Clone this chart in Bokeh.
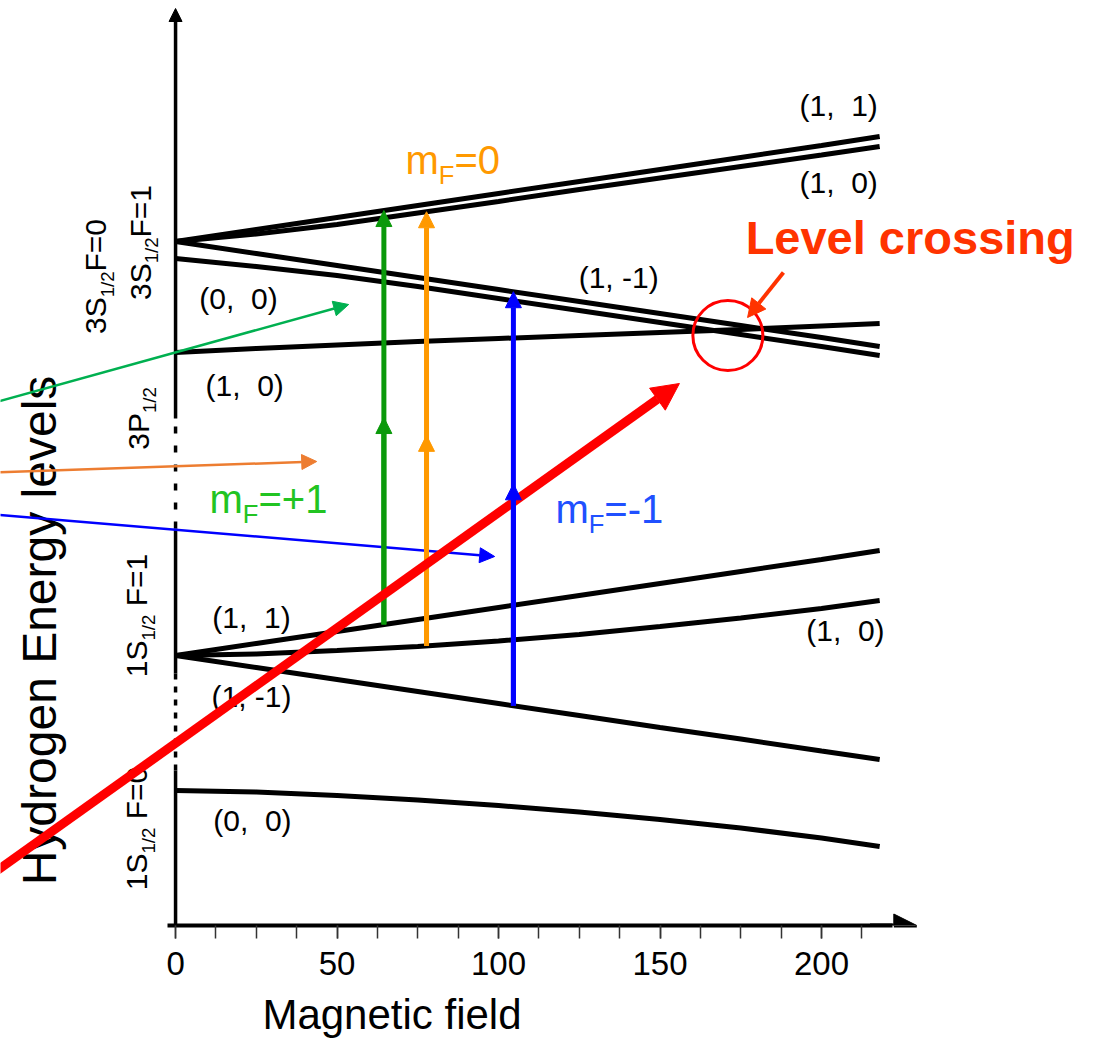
import math
import numpy as np
from bokeh.plotting import figure
from bokeh.models import Range1d, LinearAxis, FixedTicker, Arrow, NormalHead
from bokeh.core.properties import value
from bokeh.embed import file_html
from bokeh.resources import INLINE

# ---------------- data ----------------
B_GRID = [0, 25, 50, 75, 100, 125, 150, 175, 200, 218]          # magnetic field
# n = 3 levels (arbitrary energy units)
E_3S_F1_P1 = [68.4, 69.6, 70.8, 72.0, 73.2, 74.4, 75.6, 76.8, 78.0, 78.9]      # (1, 1)
E_3S_F1_0 = [68.4, 69.15, 70.1, 71.25, 72.4, 73.6, 74.75, 75.9, 77.05, 77.9]   # (1, 0)
E_3S_F1_M1 = [68.4, 67.2, 66.0, 64.8, 63.6, 62.4, 61.2, 60.0, 58.8, 57.9]      # (1, -1)
E_3S_F0 = [66.7, 65.9, 65.0, 63.9, 62.7, 61.5, 60.3, 59.1, 57.9, 57.0]         # (0, 0)
E_3P_10 = [57.3, 57.7, 58.05, 58.4, 58.7, 59.0, 59.3, 59.6, 59.95, 60.2]       # 3P1/2 (1, 0)
# n = 1 levels
E_1S_F1_P1 = [27.0, 28.2, 29.4, 30.6, 31.8, 33.0, 34.2, 35.4, 36.6, 37.5]      # (1, 1)
E_1S_F1_0 = [27.0, 27.15, 27.5, 27.9, 28.45, 29.1, 29.9, 30.75, 31.7, 32.5]    # (1, 0)
E_1S_F1_M1 = [27.0, 25.8, 24.6, 23.4, 22.2, 21.0, 19.8, 18.65, 17.45, 16.6]    # (1, -1)
E_1S_F0 = [13.5, 13.35, 13.0, 12.55, 12.0, 11.35, 10.6, 9.75, 8.75, 7.9]       # (0, 0)

# two-photon transitions: field, lower level, upper level, colour, mid-arrow fraction
TRANS_B = [64.5, 77.7, 104.6]
TRANS_LOWER = [E_1S_F1_P1, E_1S_F1_0, E_1S_F1_M1]
TRANS_UPPER = [E_3S_F1_P1, E_3S_F1_0, E_3S_F1_M1]
TRANS_COLORS = ["#0a990a", "#ff9900", "#0000ff"]
TRANS_MID = [0.50, 0.485, 0.536]

# level crossing point
CROSS_B, CROSS_E = 171.0, 59.0

TICKS = [0, 50, 100, 150, 200]
MINOR_TICKS = [12.5 * i for i in range(0, 18)]
XLABEL_AT = 67

# ---------------- figure ----------------
W, H = 1103, 1042
BOTTOM = 117
X_RANGE = (-54.2, 287.3)
Y_RANGE = (0.0, 92.5)
SX = W / (X_RANGE[1] - X_RANGE[0])             # px per field unit
SY = (H - BOTTOM) / (Y_RANGE[1] - Y_RANGE[0])  # px per energy unit
MID = 0.35   # baseline lies this many em below a "middle" anchor

FONT = "Liberation Sans, Arial, Helvetica, sans-serif"

p = figure(width=W, height=H, x_range=Range1d(*X_RANGE), y_range=Range1d(*Y_RANGE),
           x_axis_type=None, y_axis_type=None, toolbar_location=None,
           output_backend="svg", min_border_left=0, min_border_right=0,
           min_border_top=0, min_border_bottom=BOTTOM, outline_line_color=None,
           background_fill_color="white", border_fill_color="white")

xaxis = LinearAxis(ticker=FixedTicker(ticks=TICKS, minor_ticks=MINOR_TICKS),
                   bounds=(-2.5, 222), axis_line_width=4, axis_line_color="black",
                   major_tick_out=13, major_tick_in=0, minor_tick_out=13, minor_tick_in=0,
                   major_tick_line_width=1.5, minor_tick_line_width=1.5,
                   major_tick_line_color="#333333", minor_tick_line_color="#333333",
                   major_label_text_font_size="33px", major_label_text_font=FONT,
                   major_label_standoff=13, major_label_text_color="black")
p.add_layout(xaxis, "below")

# axis title drawn as the single tick label of a bare second axis
xaxis2 = LinearAxis(ticker=FixedTicker(ticks=[XLABEL_AT], minor_ticks=[]),
                    major_label_overrides={XLABEL_AT: "Magnetic field"},
                    axis_line_color=None, major_tick_line_color=None,
                    minor_tick_line_color=None, major_tick_out=0, major_tick_in=0,
                    minor_tick_out=0, minor_tick_in=0,
                    major_label_text_font_size="42px", major_label_text_font=FONT,
                    major_label_standoff=13, major_label_text_color="black")
p.add_layout(xaxis2, "below")

p.add_layout(Arrow(end=NormalHead(size=23, fill_color="black", line_color="black"),
                   x_start=215, y_start=0, x_end=229.5, y_end=0,
                   line_width=4, line_color="black"))

# vertical energy axis (solid / dashed pieces)
p.segment(x0=[0, 0], y0=[0, 25.2], x1=[0, 0], y1=[15.5, 39.7],
          line_color="black", line_width=3.5)
p.segment(x0=[0], y0=[15.5], x1=[0], y1=[25.2], line_color="black",
          line_width=3.5, line_dash="6 7")
p.segment(x0=[0], y0=[39.7], x1=[0], y1=[50.7], line_color="black",
          line_width=3.5, line_dash="7 12")
p.add_layout(Arrow(end=NormalHead(size=13, fill_color="black", line_color="black"),
                   x_start=0, y_start=50.7, x_end=0, y_end=91.7,
                   line_width=3.5, line_color="black"))

# energy levels
for E in [E_3S_F1_P1, E_3S_F1_0, E_3S_F1_M1, E_3S_F0, E_3P_10,
          E_1S_F1_P1, E_1S_F1_0, E_1S_F1_M1, E_1S_F0]:
    p.line(B_GRID, E, line_color="black", line_width=5)

# ---------------- text helpers ----------------
NB = "\u00a0"
CW = {str(d): 556 for d in range(10)}
CW.update({"S": 667, "P": 667, "F": 611, "=": 584, "+": 584, "-": 333, " ": 278,
           NB: 278, "/": 278, "m": 833})


def text_w(t, size):
    return sum(CW.get(c, 556) for c in t) / 1000.0 * size


def rich(parts, x, y, size, color, angle=0.0, center=True, sub_scale=0.62, sub_drop=0.25):
    """parts of (text, is_subscript); (x, y) is the cap-centre (center=True)
    or the left end of the baseline (center=False)."""
    a = math.radians(angle)
    ux, uy = math.cos(a), math.sin(a)
    vx, vy = -math.sin(a), math.cos(a)
    widths = [text_w(t, size * (sub_scale if s else 1.0)) for t, s in parts]
    pos = -sum(widths) / 2.0 if center else 0.0
    base = -0.36 * size if center else 0.0
    for (t, s), w in zip(parts, widths):
        fs = size * (sub_scale if s else 1.0)
        perp = base - (sub_drop * size if s else 0.0) + MID * fs
        xx = x + (pos * ux + perp * vx) / SX
        yy = y + (pos * uy + perp * vy) / SY
        p.text(x=[xx], y=[yy], text=[t], angle=a, text_align="left",
               text_baseline="middle", text_color=color,
               text_font=value(FONT), text_font_size=f"{fs:.1f}px")
        pos += w


# state labels (F, m_F)
STATE_TEXT = ["(1," + NB + " 1)", "(1," + NB + " 0)", "(1, -1)", "(0," + NB + " 0)",
              "(1," + NB + " 0)", "(1," + NB + " 1)", "(1, -1)", "(0," + NB + " 0)",
              "(1," + NB + " 0)"]
STATE_B = [205.3, 205.3, 137.2, 19.5, 21.4, 23.5, 23.5, 23.8, 207.4]
STATE_E = [82.0, 74.3, 64.8, 62.7, 54.0, 30.8, 22.9, 10.5, 29.5]
p.text(x=STATE_B, y=STATE_E, text=STATE_TEXT, text_align="center",
       text_baseline="middle", text_font=value(FONT), text_font_size="30px",
       text_color="black")

# rotated level names
rich([("3S", False), ("1/2", True), ("F=0", False)], -24.8, 64.9, 30, "black", angle=90)
rich([("3S", False), ("1/2", True), ("F=1", False)], -11.1, 68.3, 30, "black", angle=90)
rich([("3P", False), ("1/2", True)], -11.6, 50.7, 30, "black", angle=90)
rich([("1S", False), ("1/2", True), (NB + "F=1", False)], -12.1, 31.0, 30, "black", angle=90)
rich([("1S", False), ("1/2", True), (NB + "F=0", False)], -12.1, 9.7, 30, "black", angle=90)

p.text(x=[-42.0], y=[29.5], text=["Hydrogen Energy levels"], angle=math.pi / 2,
       text_align="center", text_baseline="middle", text_font=value(FONT),
       text_font_size="48px", text_color="black")

# m_F labels
rich([("m", False), ("F", True), ("=0", False)], 71.2, 75.2, 40, "#ff9900",
     center=False, sub_scale=0.64, sub_drop=0.25)
rich([("m", False), ("F", True), ("=+1", False)], 10.5, 41.3, 40, "#22c422",
     center=False, sub_scale=0.64, sub_drop=0.25)
rich([("m", False), ("F", True), ("=-1", False)], 117.6, 40.3, 40, "#2050ff",
     center=False, sub_scale=0.64, sub_drop=0.25)

p.text(x=[176.5], y=[67.2 + MID * 47 / SY], text=["Level crossing"], text_align="left",
       text_baseline="middle", text_font=value(FONT), text_font_style="bold",
       text_font_size="47px", text_color="#ff3300")

# level crossing circle
p.scatter(x=[CROSS_B], y=[CROSS_E], marker="circle", size=70, fill_color=None,
          line_color="#ff0000", line_width=3)

# ---------------- arrows ----------------
THIN = [(-56, 52.3, 53.6, 62.1, "#00b050"),
        (-56, 45.3, 43.7, 46.4, "#ed7d31"),
        (-56, 41.1, 98.8, 36.9, "#0000ff")]
for x0, y0, x1, y1, c in THIN:
    p.add_layout(Arrow(end=NormalHead(size=15, fill_color=c, line_color=c),
                       x_start=x0, y_start=y0, x_end=x1, y_end=y1,
                       line_width=2.5, line_color=c))

p.add_layout(Arrow(end=NormalHead(size=18, fill_color="#ff3300", line_color="#ff3300"),
                   x_start=188.2, y_start=65.3, x_end=177.1, y_end=60.8,
                   line_width=4, line_color="#ff3300"))


def transition(i):
    b = TRANS_B[i]
    lo = float(np.interp(b, B_GRID, TRANS_LOWER[i]))
    hi = float(np.interp(b, B_GRID, TRANS_UPPER[i]))
    mid = lo + TRANS_MID[i] * (hi - lo)
    c = TRANS_COLORS[i]
    p.add_layout(Arrow(end=NormalHead(size=16, fill_color=c, line_color=c),
                       x_start=b, y_start=lo, x_end=b, y_end=hi,
                       line_width=5, line_color=c))
    p.add_layout(Arrow(end=NormalHead(size=16, fill_color=c, line_color=c),
                       x_start=b, y_start=lo, x_end=b, y_end=mid,
                       line_width=5, line_color=c))


transition(0)
transition(1)
p.add_layout(Arrow(end=NormalHead(size=27, fill_color="#ff0000", line_color="#ff0000"),
                   x_start=-58, y_start=4.85, x_end=156.0, y_end=54.2,
                   line_width=9, line_color="#ff0000"))
transition(2)

open("out.html", "w").write(file_html(p, INLINE))
